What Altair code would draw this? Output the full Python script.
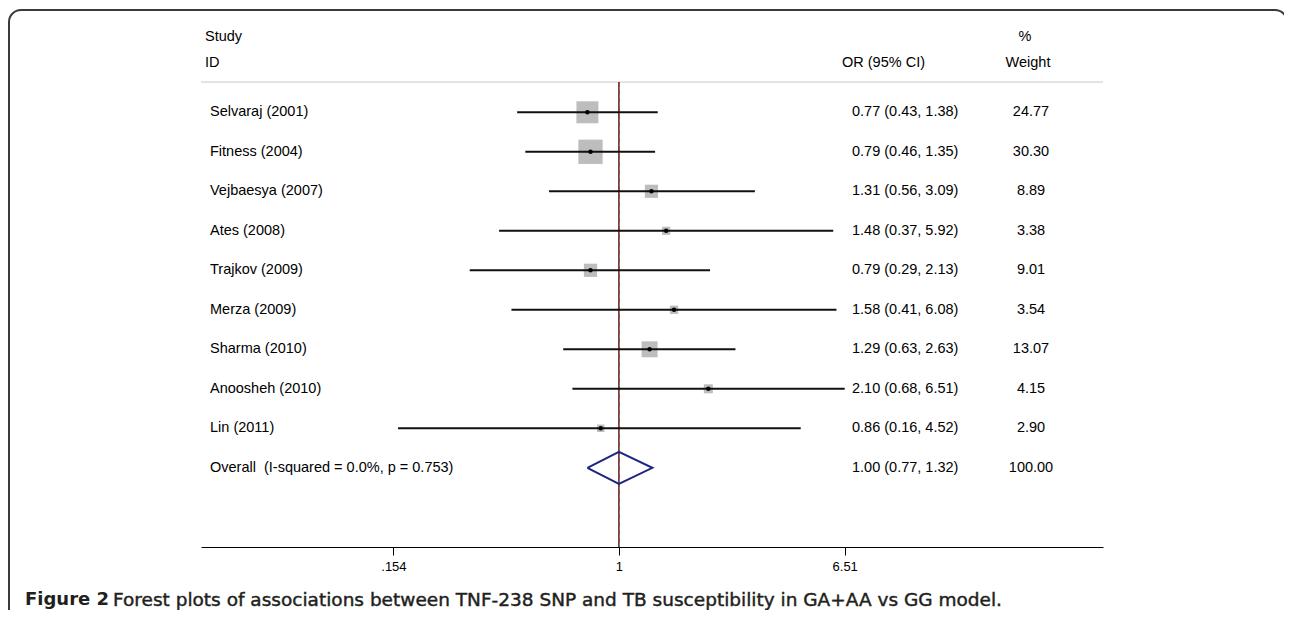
import altair as alt
import pandas as pd

# ---------------- data ----------------
studies = ["Selvaraj (2001)", "Fitness (2004)", "Vejbaesya (2007)", "Ates (2008)",
           "Trajkov (2009)", "Merza (2009)", "Sharma (2010)", "Anoosheh (2010)", "Lin (2011)"]
or_est = [0.77, 0.79, 1.31, 1.48, 0.79, 1.58, 1.29, 2.10, 0.86]
ci_low = [0.43, 0.46, 0.56, 0.37, 0.29, 0.41, 0.63, 0.68, 0.16]
ci_high = [1.38, 1.35, 3.09, 5.92, 2.13, 6.08, 2.63, 6.51, 4.52]
weights = [24.77, 30.30, 8.89, 3.38, 9.01, 3.54, 13.07, 4.15, 2.90]

overall_label = "Overall\u00a0 (I-squared = 0.0%, p = 0.753)"
overall_est, overall_low, overall_high, overall_weight = 1.00, 0.77, 1.32, 100.00

tick_values = [0.154, 1, 6.51]
tick_labels = [".154", "1", "6.51"]

header_left = ["Study", "ID"]
header_or = "OR (95% CI)"
header_w = ["%", "Weight"]
caption_bold = "Figure 2"
caption_rest = "Forest plots of associations between TNF-238 SNP and TB susceptibility in GA+AA vs GG model."

# ---------------- layout ----------------
W, H = 902, 465
FONT = "Liberation Sans"
FS = 14.5

labels = studies + [overall_label]
df = pd.DataFrame({
    "row": list(range(len(labels))),
    "label": labels,
    "est": or_est + [overall_est],
    "lo": ci_low + [overall_low],
    "hi": ci_high + [overall_high],
    "weight": weights + [overall_weight],
})
df["ci_text"] = [f"{e:.2f} ({l:.2f}, {h:.2f})" for e, l, h in zip(df.est, df.lo, df.hi)]
df["w_text"] = [f"{w:.2f}" for w in df.weight]
sdf = df.iloc[:-1]
orow = len(studies)

half = 0.405
diamond = pd.DataFrame({
    "x": [overall_low, overall_est, overall_high, overall_est, overall_low],
    "y": [orow, orow - half, orow, orow + half, orow],
    "o": [0, 1, 2, 3, 4],
})

xscale = alt.Scale(type="log", domain=[0.0312, 55.5], nice=False)
yscale = alt.Scale(domain=[-0.767, 11.005], reverse=True, nice=False, zero=False)

label_expr = " : ".join(f"datum.value == {v} ? '{t}'" for v, t in zip(tick_values, tick_labels)) + " : ''"

one = pd.DataFrame({"a": [0]})

frame = alt.Chart(one).mark_rect(filled=False, stroke="#3a3a3a", strokeWidth=2, cornerRadius=12).encode(
    x=alt.value(-192), x2=alt.value(1086), y=alt.value(-72), y2=alt.value(720))

sep = alt.Chart(one).mark_rule(color="#c8c8c8", strokeWidth=1).encode(
    x=alt.value(0), x2=alt.value(W), y=alt.value(0))

null_line = alt.Chart(one).mark_rule(color="#000000", strokeWidth=1.2).encode(
    x=alt.datum(1, scale=xscale), y=alt.value(0), y2=alt.value(H))
ov_line = alt.Chart(one).mark_rule(color="#a83232", strokeWidth=1.4, strokeDash=[5, 3]).encode(
    x=alt.datum(overall_est, scale=xscale), y=alt.value(0), y2=alt.value(H))

boxes = alt.Chart(sdf).mark_square(filled=True, color="#bdbdbd", opacity=1).encode(
    x=alt.X("est:Q", scale=xscale),
    y=alt.Y("row:Q", scale=yscale, axis=None),
    size=alt.Size("weight:Q", scale=alt.Scale(type="linear", domain=[0, 100], range=[0, 1950]), legend=None))

ci = alt.Chart(sdf).mark_rule(color="#111111", strokeWidth=2).encode(
    x=alt.X("lo:Q", scale=xscale,
            axis=alt.Axis(values=tick_values, labelExpr=label_expr, title=None, grid=False,
                          domainColor="#000000", tickColor="#000000", tickSize=8, tickWidth=1,
                          domainWidth=1, labelFont=FONT, labelFontSize=13, labelColor="#000000",
                          labelPadding=5)),
    x2="hi:Q",
    y=alt.Y("row:Q", scale=yscale, axis=None))

dots = alt.Chart(sdf).mark_point(filled=True, shape="circle", size=20, color="#000000", opacity=1).encode(
    x=alt.X("est:Q", scale=xscale), y=alt.Y("row:Q", scale=yscale))

dia = alt.Chart(diamond).mark_line(color="#1c2680", strokeWidth=2, strokeJoin="miter").encode(
    x=alt.X("x:Q", scale=xscale), y=alt.Y("y:Q", scale=yscale), order="o:Q")

txt = dict(font=FONT, fontSize=FS, color="#000000", baseline="middle")

lab = alt.Chart(df).mark_text(align="left", **txt).encode(
    x=alt.value(9), y=alt.Y("row:Q", scale=yscale), text="label:N")
ortxt = alt.Chart(df).mark_text(align="left", **txt).encode(
    x=alt.value(651), y=alt.Y("row:Q", scale=yscale), text="ci_text:N")
wtxt = alt.Chart(df).mark_text(align="center", **txt).encode(
    x=alt.value(830), y=alt.Y("row:Q", scale=yscale), text="w_text:N")


def head(s, x, y, align="left"):
    return alt.Chart(one).mark_text(align=align, text=s, **txt).encode(x=alt.value(x), y=alt.value(y))


heads = [head(header_left[0], 4, -45), head(header_left[1], 4, -19),
         head(header_or, 641, -19),
         head(header_w[0], 824, -45, "center"), head(header_w[1], 827, -19, "center")]

cap1 = alt.Chart(one).mark_text(align="left", baseline="middle", text=caption_bold, font="DejaVu Sans",
                                fontSize=18, fontWeight="bold", color="#231f20").encode(
    x=alt.value(-176), y=alt.value(518))
cap2 = alt.Chart(one).mark_text(align="left", baseline="middle", text=caption_rest, font="DejaVu Sans",
                                fontSize=18.5, fontWeight="normal", color="#231f20",
                                stroke="#231f20", strokeWidth=0.45).encode(
    x=alt.value(-88), y=alt.value(518))

chart = alt.layer(frame, sep, null_line, ov_line, boxes, ci, dots, dia, lab, ortxt, wtxt,
                  *heads, cap1, cap2).properties(
    width=W, height=H,
    background="#ffffff",
    autosize=alt.AutoSizeParams(type="none"),
    padding={"left": 193, "top": 74, "right": 181, "bottom": 63},
).configure_view(stroke=None)

chart.save("out.html", embed_options={"renderer": "svg", "actions": False})
